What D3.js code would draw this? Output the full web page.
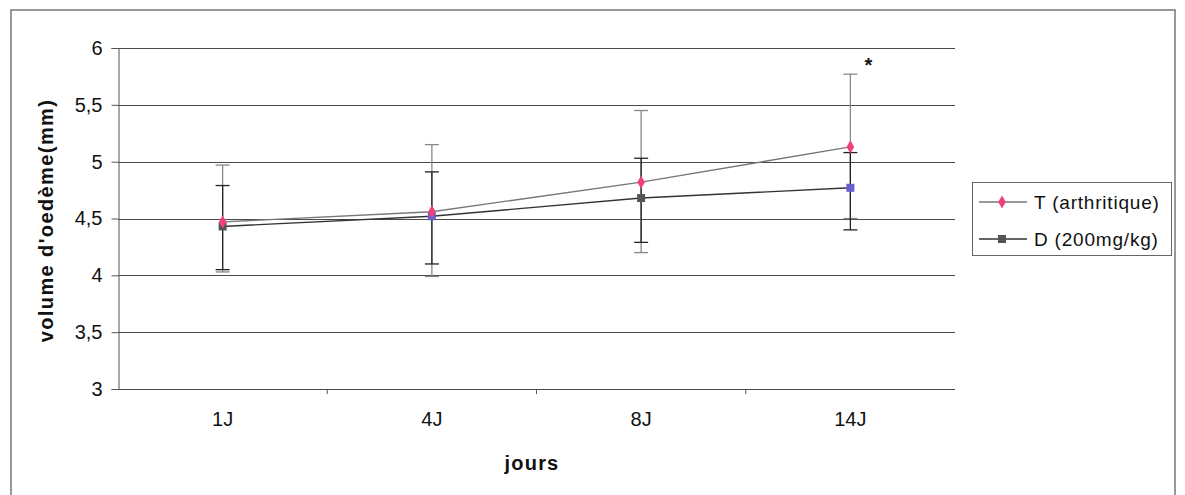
<!DOCTYPE html>
<html><head><meta charset="utf-8">
<script src="https://cdn.jsdelivr.net/npm/d3@7"></script>
<style>body{margin:0;background:#fff}svg{display:block;font-family:"Liberation Sans",Arial,sans-serif}</style>
</head><body>
<svg id="c" width="1185" height="495"></svg>
<script>
const categories = ["1J", "4J", "8J", "14J"];
const yTicks = [3, 3.5, 4, 4.5, 5, 5.5, 6];
const yTickLabels = ["3", "3,5", "4", "4,5", "5", "5,5", "6"];
const seriesNames = ["T (arthritique)", "D (200mg/kg)"];
const tValues = [4.47, 4.56, 4.82, 5.13];
const tUpper = [4.97, 5.15, 5.45, 5.77];
const tLower = [4.03, 3.99, 4.20, 4.50];
const dValues = [4.43, 4.52, 4.68, 4.77];
const dUpper = [4.79, 4.91, 5.03, 5.08];
const dLower = [4.05, 4.10, 4.29, 4.40];

const svg = d3.select("#c");
const L = 118, R = 955, T = 48, B = 389;
const FONT = "Liberation Sans, Arial, sans-serif";
const x = d3.scaleBand().domain(categories).range([L, R]);
const y = d3.scaleLinear().domain([3, 6]).range([B, T]);
const cx = c => x(c) + x.bandwidth() / 2;

// outer frame
svg.append("rect").attr("x", 11).attr("y", 10).attr("width", 1164).attr("height", 500)
  .attr("fill", "#fff").attr("stroke", "#777").attr("stroke-width", 1.5);

// gridlines
svg.append("g").selectAll("line").data(yTicks).join("line")
  .attr("x1", L).attr("x2", R).attr("y1", d => Math.round(y(d)) + 0.5).attr("y2", d => Math.round(y(d)) + 0.5)
  .attr("stroke", "#4a4a4a").attr("stroke-width", 1.2);

// y axis
const ya = svg.append("g").attr("transform", `translate(${L + 0.5},0)`)
  .call(d3.axisLeft(y).tickValues(yTicks).tickFormat((d, i) => yTickLabels[i]).tickSize(7).tickPadding(9));
ya.select(".domain").attr("stroke", "#555");
ya.selectAll(".tick line").attr("stroke", "#555");
ya.selectAll("text").attr("font-size", 20).attr("fill", "#111").attr("font-family", FONT);

// x axis
const xa = svg.append("g").attr("transform", `translate(0,${Math.round(y(3)) + 0.5})`)
  .call(d3.axisBottom(x).tickSize(0).tickPadding(22));
xa.select(".domain").remove();
xa.selectAll("text").attr("font-size", 20).attr("fill", "#111").attr("font-family", FONT);
// category separators ticks
svg.append("g").selectAll("line").data(categories.slice(1)).join("line")
  .attr("x1", d => x(d)).attr("x2", d => x(d)).attr("y1", B).attr("y2", B + 5)
  .attr("stroke", "#555");

// error bars
function errBars(up, lo, color, w) {
  const g = svg.append("g");
  categories.forEach((c, i) => {
    const xc = cx(c);
    g.append("line").attr("x1", xc).attr("x2", xc).attr("y1", y(up[i])).attr("y2", y(lo[i])).attr("stroke", color).attr("stroke-width", w);
    [up[i], lo[i]].forEach(v => g.append("line").attr("x1", xc - 7).attr("x2", xc + 7).attr("y1", y(v)).attr("y2", y(v)).attr("stroke", color).attr("stroke-width", w));
  });
}
errBars(tUpper, tLower, "#888", 1.3);
errBars(dUpper, dLower, "#222", 1.3);

// lines
const line = d3.line().x((d, i) => cx(categories[i])).y(d => y(d));
svg.append("path").datum(tValues).attr("d", line).attr("fill", "none").attr("stroke", "#777").attr("stroke-width", 1.4);
svg.append("path").datum(dValues).attr("d", line).attr("fill", "none").attr("stroke", "#333").attr("stroke-width", 1.4);

// markers
const dColors = ["#555", "#6a5fd0", "#555", "#6a5fd0"];
svg.append("g").selectAll("rect").data(dValues).join("rect")
  .attr("x", (d, i) => cx(categories[i]) - 4).attr("y", d => y(d) - 4).attr("width", 8).attr("height", 8)
  .attr("fill", (d, i) => dColors[i]);
svg.append("g").selectAll("path").data(tValues).join("path")
  .attr("transform", (d, i) => `translate(${cx(categories[i])},${y(d)})`)
  .attr("d", d3.symbol().type(d3.symbolDiamond).size(50))
  .attr("fill", "#f0407a");

// asterisk
svg.append("text").attr("x", cx("14J") + 18).attr("y", 72).attr("text-anchor", "middle")
  .attr("font-size", 20).attr("font-weight", "bold").attr("fill", "#111").text("*");

// axis titles
svg.append("text").attr("transform", `translate(53,${(T + B) / 2 + 2}) rotate(-90)`).attr("text-anchor", "middle")
  .attr("font-size", 20).attr("font-weight", "bold").attr("letter-spacing", 1.4).attr("fill", "#111").text("volume d'oedème(mm)");
svg.append("text").attr("x", 532).attr("y", 470).attr("text-anchor", "middle")
  .attr("font-size", 20).attr("font-weight", "bold").attr("letter-spacing", 1.2).attr("fill", "#111").text("jours");

// legend
const lg = svg.append("g");
lg.append("rect").attr("x", 972.5).attr("y", 182.5).attr("width", 199).attr("height", 73)
  .attr("fill", "#fff").attr("stroke", "#666");
seriesNames.forEach((n, i) => {
  const ly = 202 + i * 37;
  lg.append("line").attr("x1", 979).attr("x2", 1027).attr("y1", ly).attr("y2", ly).attr("stroke", i === 0 ? "#777" : "#333").attr("stroke-width", 1.4);
  if (i === 0) lg.append("path").attr("transform", `translate(1002,${ly})`).attr("d", d3.symbol().type(d3.symbolDiamond).size(50)).attr("fill", "#f0407a");
  else lg.append("rect").attr("x", 998).attr("y", ly - 4).attr("width", 8).attr("height", 8).attr("fill", "#555");
  lg.append("text").attr("x", 1034).attr("y", ly + 7).attr("font-size", 19).attr("letter-spacing", 0.8).attr("fill", "#111").text(n);
});
</script>
</body></html>
